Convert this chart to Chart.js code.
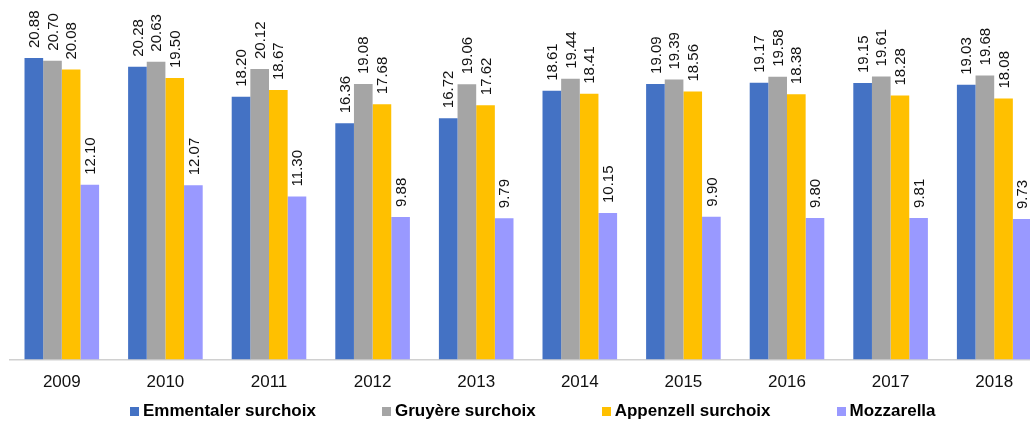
<!DOCTYPE html>
<html>
<head>
<meta charset="utf-8">
<script src="https://cdn.jsdelivr.net/npm/chart.js@4/dist/chart.umd.min.js"></script>
<style>
  html, body { margin: 0; padding: 0; background: #fff; overflow: hidden; }
  #wrap { position: relative; width: 1056px; height: 421px; }
  #legend {
    position: absolute; left: 130px; top: 401px;
    display: flex; gap: 66px;
    font: bold 17px "Liberation Sans", Arial, sans-serif; color: #000;
  }
  #legend span.item { display: flex; align-items: center; white-space: nowrap; }
  #legend i { display: inline-block; width: 9px; height: 9px; margin-right: 4px; }
</style>
</head>
<body>
<div id="wrap">
  <canvas id="chart"></canvas>
  <div id="legend"></div>
</div>
<script>
const years = ['2009', '2010', '2011', '2012', '2013', '2014', '2015', '2016', '2017', '2018'];
const emmentaler = [20.88, 20.28, 18.20, 16.36, 16.72, 18.61, 19.09, 19.17, 19.15, 19.03];
const gruyere = [20.70, 20.63, 20.12, 19.08, 19.06, 19.44, 19.39, 19.58, 19.61, 19.68];
const appenzell = [20.08, 19.50, 18.67, 17.68, 17.62, 18.41, 18.56, 18.38, 18.28, 18.08];
const mozzarella = [12.10, 12.07, 11.30, 9.88, 9.79, 10.15, 9.90, 9.80, 9.81, 9.73];

const seriesNames = ['Emmentaler surchoix', 'Gruyère surchoix', 'Appenzell surchoix', 'Mozzarella'];
const seriesColors = ['#4472C4', '#A5A5A5', '#FFC000', '#9999FF'];
const seriesData = [emmentaler, gruyere, appenzell, mozzarella];

// rotated value labels above each bar
const valueLabels = {
  id: 'valueLabels',
  afterDatasetsDraw(chart) {
    const ctx = chart.ctx;
    ctx.save();
    ctx.font = '15px "Liberation Sans", Arial, sans-serif';
    ctx.fillStyle = '#111';
    ctx.textAlign = 'left';
    ctx.textBaseline = 'middle';
    chart.data.datasets.forEach((ds, i) => {
      const meta = chart.getDatasetMeta(i);
      meta.data.forEach((bar, j) => {
        ctx.save();
        ctx.translate(bar.x + 1, bar.y - 10);
        ctx.rotate(-Math.PI / 2);
        ctx.fillText(ds.data[j].toFixed(2), 0, 0);
        ctx.restore();
      });
    });
    ctx.restore();
  }
};

new Chart(document.getElementById('chart'), {
  type: 'bar',
  data: {
    labels: years,
    datasets: seriesData.map((d, i) => ({
      label: seriesNames[i],
      data: d,
      backgroundColor: seriesColors[i],
      borderWidth: 0,
      categoryPercentage: 0.72,
      barPercentage: 1.0
    }))
  },
  options: {
    responsive: true,
    maintainAspectRatio: false,
    animation: false,
    layout: { padding: { left: 10, right: 10, top: 0, bottom: 15 } },
    scales: {
      x: {
        grid: { display: false, drawTicks: false },
        border: { display: true, color: '#d0d0d0', width: 1.5 },
        ticks: {
          padding: 13,
          color: '#111',
          font: { family: '"Liberation Sans", Arial, sans-serif', size: 17 }
        }
      },
      y: {
        display: false,
        min: 0,
        max: 24.9
      }
    },
    plugins: {
      legend: { display: false },
      tooltip: { enabled: false }
    }
  },
  plugins: [valueLabels]
});

const legend = document.getElementById('legend');
legend.innerHTML = seriesNames.map((n, i) =>
  `<span class="item"><i style="background:${seriesColors[i]}"></i>${n}</span>`
).join('');
</script>
</body>
</html>
